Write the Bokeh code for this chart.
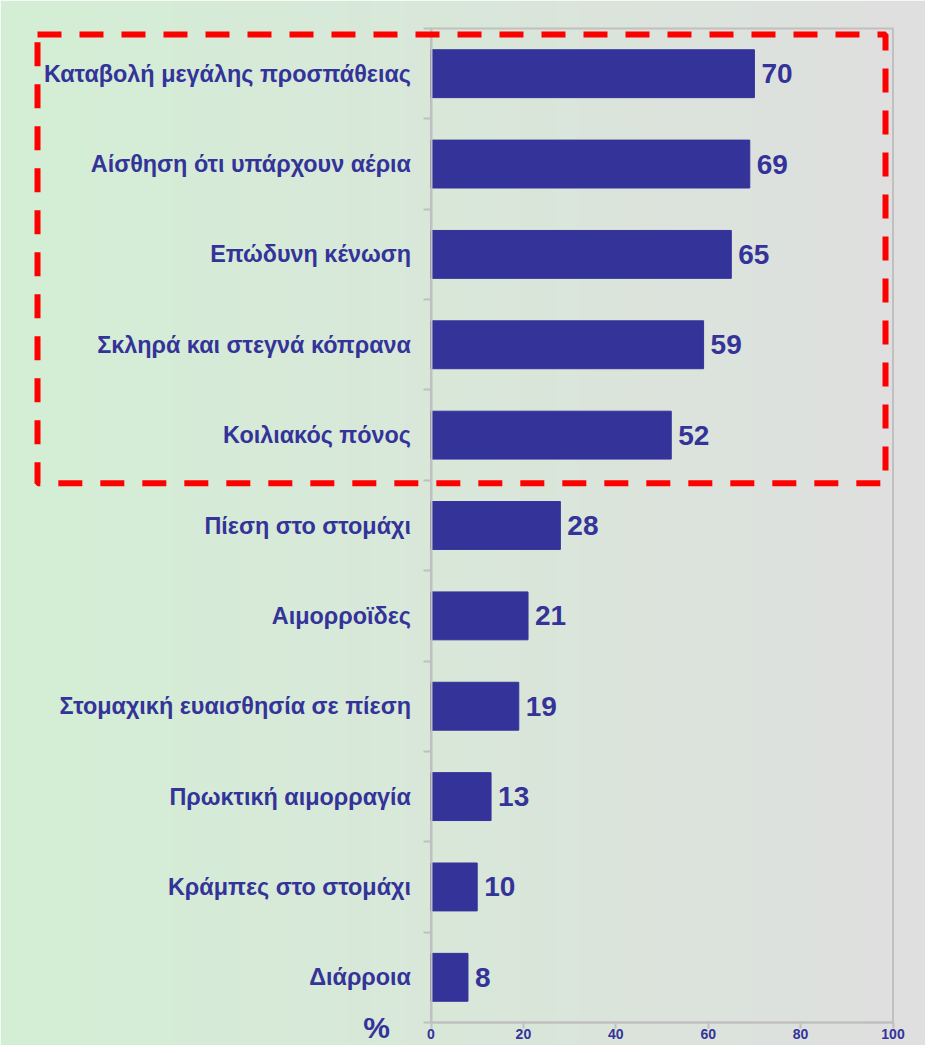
import numpy as np
from bokeh.plotting import figure
from bokeh.models import (Range1d, LinearAxis, FixedTicker, BoxAnnotation, Label,
                          ColumnDataSource)
from bokeh.core.properties import value
from bokeh.embed import file_html
from bokeh.resources import INLINE

# ---- data ----
categories = [
    "Καταβολή μεγάλης προσπάθειας",
    "Αίσθηση ότι υπάρχουν αέρια",
    "Επώδυνη κένωση",
    "Σκληρά και στεγνά κόπρανα",
    "Κοιλιακός πόνος",
    "Πίεση στο στομάχι",
    "Αιμορροϊδες",
    "Στομαχική ευαισθησία σε πίεση",
    "Πρωκτική αιμορραγία",
    "Κράμπες στο στομάχι",
    "Διάρροια",
]
values = [70, 69, 65, 59, 52, 28, 21, 19, 13, 10, 8]
x_ticks = [0, 20, 40, 60, 80, 100]
highlight_count = 5
unit_label = "%"

# ---- layout constants (pixels) ----
W, H = 925, 1045
X0_PX = 430.5        # pixel of value 0
PX_PER_X = 4.62      # pixels per percent
TOP_PX = 28          # top of plot area
PLOT_H_PX = 994      # height of plot area
n = len(categories)
PX_PER_Y = PLOT_H_PX / n

x_start = -X0_PX / PX_PER_X
x_end = (W - X0_PX) / PX_PER_X
y_end = n + 0.5 + TOP_PX / PX_PER_Y
y_start = 0.5 - (H - TOP_PX - PLOT_H_PX) / PX_PER_Y

BAR = "#333399"
AXIS = "#c0c0c0"
FONT = "Liberation Sans"

ys = [n - i for i in range(n)]
src = ColumnDataSource(dict(y=ys, value=values, cat=categories,
                            label=[str(v) for v in values]))

p = figure(width=W, height=H, x_range=Range1d(x_start, x_end),
           y_range=Range1d(y_start, y_end), output_backend="svg",
           toolbar_location=None, min_border=0, x_axis_type=None, y_axis_type=None)
p.outline_line_color = None
p.border_fill_color = "#d8e8d9"

# background gradient (green-ish left -> grey right)
ncol = W
c_left = np.array([212, 239, 213])
c_right = np.array([223, 223, 223])
t = np.linspace(0, 1, ncol)[None, :, None]
rgb = (c_left * (1 - t) + c_right * t).astype(np.uint32)
rgb = np.repeat(rgb, 2, axis=0)
img = np.zeros((2, ncol), dtype=np.uint32)
view = img.view(dtype=np.uint8).reshape((2, ncol, 4))
view[:, :, 0] = rgb[:, :, 0]
view[:, :, 1] = rgb[:, :, 1]
view[:, :, 2] = rgb[:, :, 2]
view[:, :, 3] = 255
p.image_rgba(image=[img], x=x_start, y=y_start, dw=x_end - x_start, dh=y_end - y_start)

# plot area border (top/right)
p.quad(left=x_ticks[0], right=x_ticks[-1], bottom=0.5, top=n + 0.5,
       fill_color=None, line_color=AXIS, line_width=2)

# bars
p.hbar(y="y", left=0, right="value", height=0.53, color=BAR, source=src)

# value labels
p.text(x="value", y="y", text="label", source=src, x_offset=7,
       text_align="left", text_baseline="middle", text_color=BAR,
       text_font=value(FONT), text_font_style="bold", text_font_size="28px")

# y axis (category labels) at x = 0
yaxis = LinearAxis(fixed_location=0,
                   ticker=FixedTicker(ticks=ys, minor_ticks=[i + 0.5 for i in range(n + 1)]),
                   major_label_overrides={y: c for y, c in zip(ys, categories)},
                   bounds=(0.5, n + 0.5))
yaxis.axis_line_color = AXIS
yaxis.axis_line_width = 2
yaxis.major_tick_line_color = None
yaxis.major_tick_out = 0
yaxis.major_tick_in = 0
yaxis.minor_tick_line_color = AXIS
yaxis.minor_tick_line_width = 2
yaxis.minor_tick_out = 8
yaxis.minor_tick_in = 0
yaxis.major_label_standoff = 12
yaxis.major_label_text_font = FONT
yaxis.major_label_text_font_style = "bold"
yaxis.major_label_text_font_size = "23.4px"
yaxis.major_label_text_color = BAR
p.add_layout(yaxis, "left")

# x axis at bottom of plot area
xaxis = LinearAxis(fixed_location=0.5, ticker=FixedTicker(ticks=x_ticks),
                   bounds=(x_ticks[0], x_ticks[-1]))
xaxis.axis_line_color = AXIS
xaxis.axis_line_width = 2
xaxis.major_tick_line_color = AXIS
xaxis.major_tick_line_width = 2
xaxis.major_tick_out = 6
xaxis.major_tick_in = 0
xaxis.minor_tick_line_color = None
xaxis.major_label_standoff = 0
xaxis.major_label_text_font = FONT
xaxis.major_label_text_font_style = "bold"
xaxis.major_label_text_font_size = "14px"
xaxis.major_label_text_color = BAR
p.add_layout(xaxis, "below")

# unit label
p.add_layout(Label(x=(376 - X0_PX) / PX_PER_X, y=0.5 - 5 / PX_PER_Y, text=unit_label,
                   text_align="center", text_baseline="middle", text_color=BAR,
                   text_font=FONT, text_font_style="bold", text_font_size="30px"))

# dashed highlight box around the top categories
p.add_layout(BoxAnnotation(left=(37 - X0_PX) / PX_PER_X, right=(885 - X0_PX) / PX_PER_X,
                           top=n + 0.5 - 6 / PX_PER_Y,
                           bottom=n - highlight_count + 0.5 - 3 / PX_PER_Y,
                           fill_color=None, fill_alpha=0, line_color="#ff0000",
                           line_alpha=1.0, line_width=6, line_dash="24 18"))

open("out.html", "w").write(file_html(p, INLINE))
